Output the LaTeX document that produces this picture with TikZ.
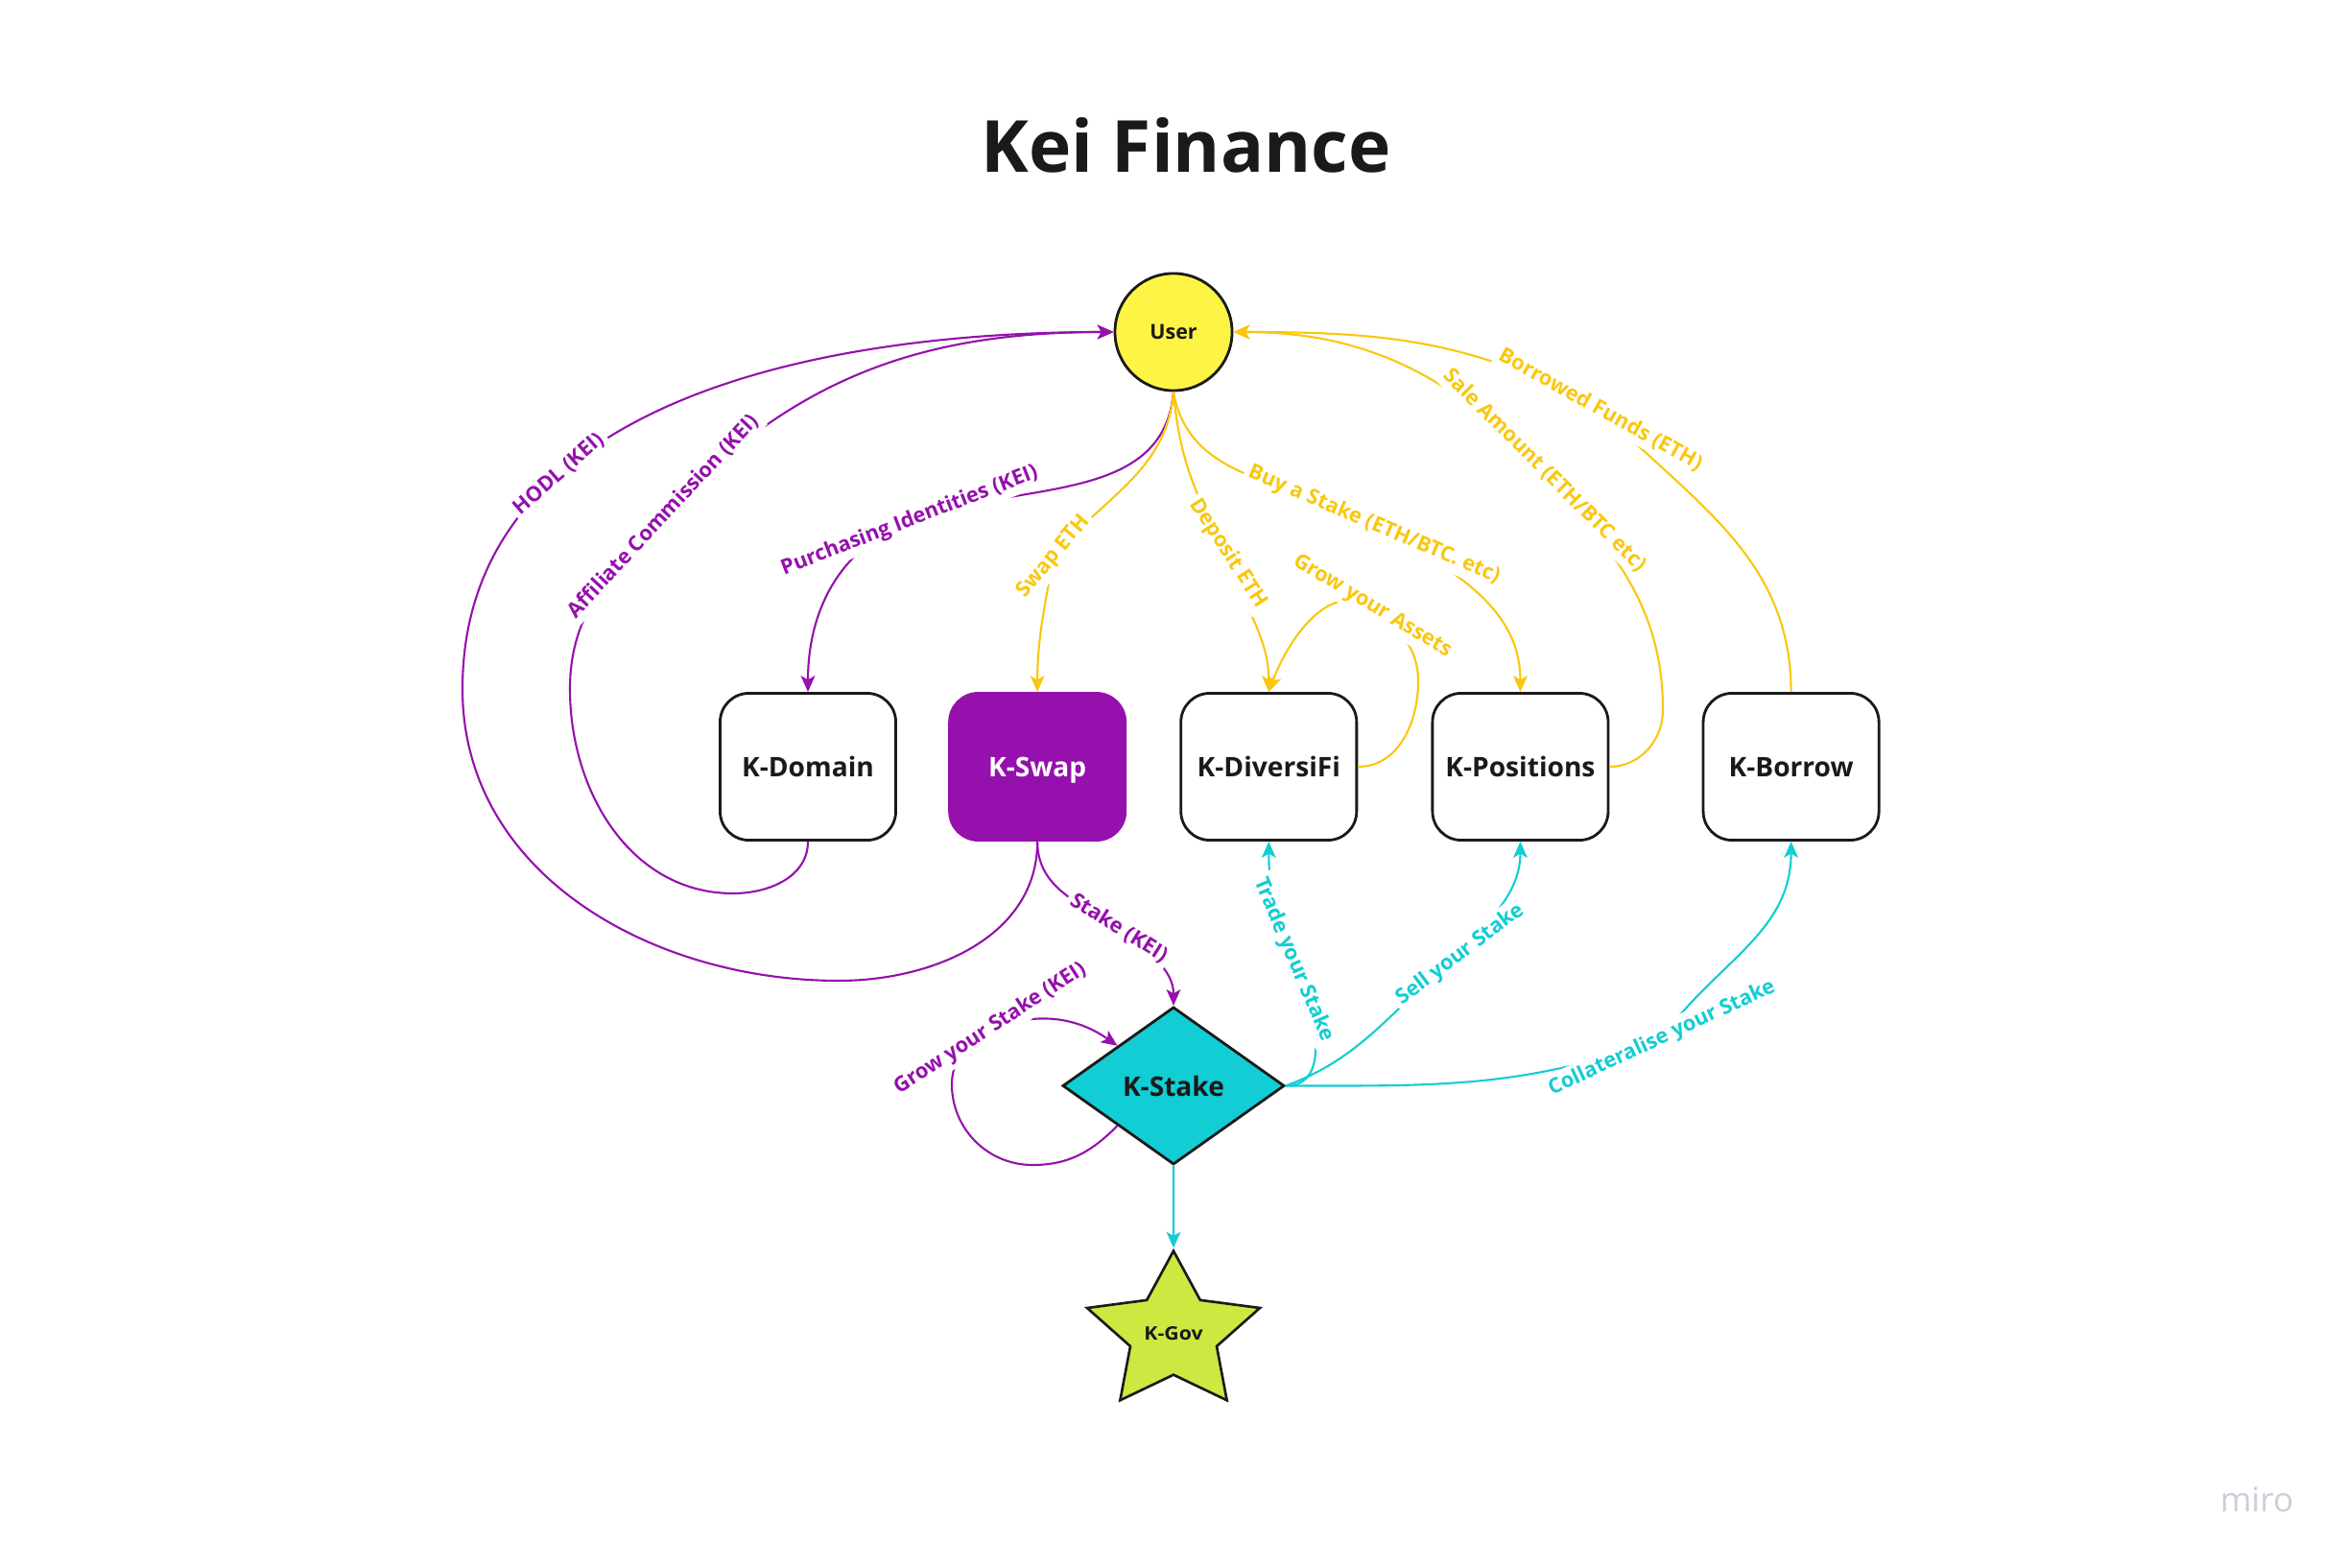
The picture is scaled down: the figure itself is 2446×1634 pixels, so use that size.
\documentclass[tikz,border=0pt]{standalone}
\usepackage{fontspec}
\setmainfont{Open Sans}
\usetikzlibrary{shapes,arrows,arrows.meta}
\definecolor{kpurple}{HTML}{9510AC}
\definecolor{kyellow}{HTML}{FAC710}
\definecolor{kteal}{HTML}{12CDD4}
\definecolor{kuser}{HTML}{FEF445}
\definecolor{kgovfill}{HTML}{CEE741}
\definecolor{kink}{HTML}{1A1A1A}
\definecolor{kmiro}{HTML}{CDCDDB}
\tikzstyle{module} = [draw=kink, line width=0.8pt, rounded corners=0.3cm, minimum width=1.83cm, minimum height=1.53cm, text height=5.8pt, text depth=0pt, text=kink, font=\bfseries\fontsize{8}{10}\selectfont]
\tikzstyle{elabel} = [fill=white, inner sep=1.2pt, font=\bfseries\fontsize{6.2}{7}\selectfont]
\tikzstyle{pflow} = [kpurple, line width=0.6pt, ->]
\tikzstyle{yflow} = [kyellow, line width=0.6pt, ->]
\tikzstyle{tflow} = [kteal, line width=0.6pt, ->]

\begin{document}
\begin{tikzpicture}[x=0.01cm, y=0.01cm, >={Stealth[length=4.8pt,width=4.2pt,inset=1.2pt]}]
		\fill [white] (0,0) rectangle (2446,-1634);
		\node [text=kink, font=\bfseries\fontsize{21.3}{26}\selectfont] (title) at (1236,-151) {Kei Finance};
		\node [circle, draw=kink, line width=0.8pt, fill=kuser, minimum size=1.22cm, inner sep=0pt, text=kink, font=\bfseries\fontsize{6.1}{7}\selectfont] (user) at (1223,-346) {User};
		\node [module] (kdomain) at (842,-799) {K-Domain};
		\node [module, fill=kpurple, draw=kpurple, text=white, right of=kdomain, node distance=2.39cm] (kswap) {K-Swap};
		\node [module, right of=kswap, node distance=2.41cm] (kdiv) {K-DiversiFi};
		\node [module, right of=kdiv, node distance=2.62cm] (kpos) {K-Positions};
		\node [module, right of=kpos, node distance=2.82cm] (kborrow) {K-Borrow};
		\node [diamond, aspect=1.41, draw=kink, line width=0.8pt, fill=kteal, minimum width=2.31cm, minimum height=1.64cm, inner sep=0pt, text=kink, font=\bfseries\fontsize{8}{10}\selectfont, below of=user, node distance=7.85cm] (kstake) {K-Stake};
		\node [star, star points=5, star point ratio=2.0, draw=kink, line width=0.75pt, fill=kgovfill, minimum size=1.72cm, inner sep=0pt, xscale=1.1, text=kink, font=\bfseries\fontsize{5.5}{7}\selectfont, below of=kstake, node distance=2.58cm] (kgov) {K-Gov};
		\node [text=kmiro, font=\fontsize{10}{12}\selectfont] (miro) at (2352,-1563) {miro};
		
		
		\draw [pflow] (kswap.south) to[out=-90,in=0] (874,-1022) to[out=180,in=-90] (482,-718) to[out=90,in=180] node[elabel, sloped, pos=0.32] {HODL (KEI)} (user.west);
		\draw [pflow] (kdomain.south) to[out=-90,in=0] (764,-931) to[out=180,in=-90] (594,-718) to[out=90,in=227] (691,-538) node[elabel, rotate=47] {Affiliate Commission (KEI)} to[out=47,in=180] (user.west);
		\draw [pflow] (user.south) to[out=-95,in=21] (948,-543) node[elabel, rotate=21] {Purchasing Identities (KEI)} to[out=201,in=90] (kdomain.north);
		\draw [pflow] (kswap.south) to[out=-90,in=148] (1166,-967) node[elabel, rotate=-32] {Stake (KEI)} to[out=-40,in=90] (kstake.north);
		\draw [pflow] (kstake.south west) to[out=-135,in=0] (1076,-1214) to[out=180,in=-90] (992,-1130) to[out=90,in=213] (1032,-1072) node[elabel, rotate=33] {Grow your Stake (KEI)} to[out=20,in=145] (kstake.north west);
		
		\draw [yflow] (user.south) to[out=-95,in=50] (1098,-580) node[elabel, rotate=50] {Swap ETH} to[out=260,in=90] (kswap.north);
		\draw [yflow] (user.south) to[out=-85,in=120] (1280,-577) node[elabel, rotate=-57] {Deposit ETH} to[out=-75,in=90] (kdiv.north);
		\draw [yflow] (user.south) to[out=-80,in=150] (1432,-547) node[elabel, rotate=-23] {Buy a Stake (ETH/BTC. etc)} to[out=-30,in=90] (kpos.north);
		\draw [yflow] (kdiv.east) to[out=0,in=-90] (1478,-710) to[out=90,in=-40] (1430,-632) node[elabel, rotate=-31] {Grow your Assets} to[out=149,in=70] (kdiv.north);
		\draw [yflow] (kpos.east) to[out=0,in=-90] (1733,-740) to[out=90,in=-50] (1610,-490) node[elabel, rotate=-45] {Sale Amount (ETH/BTC etc)} to[out=135,in=0] (user.east);
		\draw [yflow] (kborrow.north) to[out=90,in=-45] (1668,-427) node[elabel, rotate=-29] {Borrowed Funds (ETH)} to[out=151,in=0] (user.east);
		
		\draw [tflow] (kstake.east) to[out=0,in=-67] (1348,-1000) node[elabel, rotate=-67] {Trade your Stake} to[out=113,in=-90] (kdiv.south);
		\draw [tflow] (kstake.east) to[out=20,in=217] (1522,-995) node[elabel, rotate=37] {Sell your Stake} to[out=50,in=-90] (kpos.south);
		\draw [tflow] (kstake.east) to[out=0,in=200] (1732,-1082) node[elabel, rotate=25] {Collateralise your Stake} to[out=55,in=-90] (kborrow.south);
		\draw [tflow] (kstake.south) -- (kgov.north);
		
		
\end{tikzpicture}
\end{document}
